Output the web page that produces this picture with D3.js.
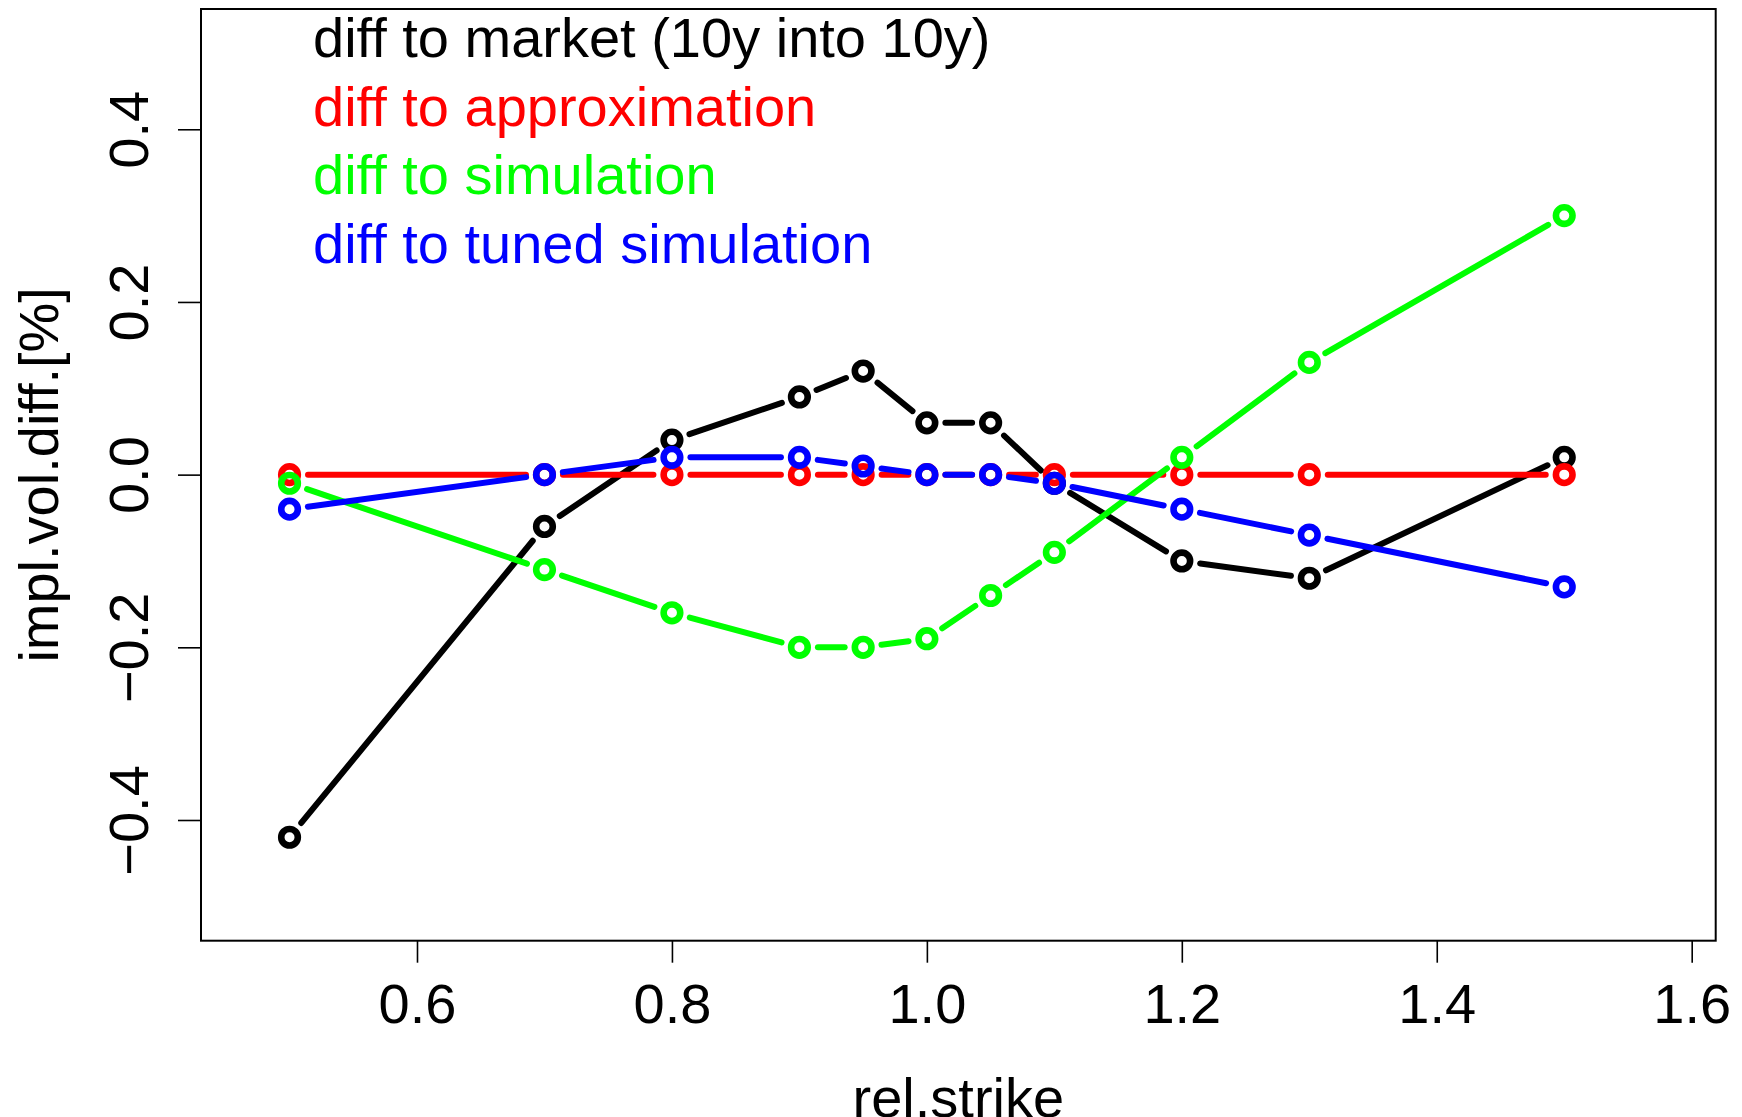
<!DOCTYPE html>
<html>
<head>
<meta charset="utf-8">
<script src="https://cdn.jsdelivr.net/npm/d3@7"></script>
<style>
  body { margin: 0; background: #fff; }
  svg text { font-family: "Liberation Sans", Arial, Helvetica, sans-serif; }
</style>
</head>
<body>
<svg id="chart" width="1742" height="1117"></svg>
<script>
// strikes on the x axis
var strikes = [0.5, 0.7, 0.8, 0.9, 0.95, 1.0, 1.05, 1.1, 1.2, 1.3, 1.5];

// implied vol differences, in %
var diffMarket    = [-0.42, -0.06, 0.04, 0.09, 0.12, 0.06, 0.06, -0.01, -0.10, -0.12, 0.02];
var diffApprox    = [0, 0, 0, 0, 0, 0, 0, 0, 0, 0, 0];
var diffSim       = [-0.01, -0.11, -0.16, -0.20, -0.20, -0.19, -0.14, -0.09, 0.02, 0.13, 0.30];
var diffTunedSim  = [-0.04, 0.0, 0.02, 0.02, 0.01, 0.0, 0.0, -0.01, -0.04, -0.07, -0.13];

var seriesNames = ["diff to market (10y into 10y)", "diff to approximation",
                   "diff to simulation", "diff to tuned simulation"];
var seriesColors = ["#000000", "#ff0000", "#00ff00", "#0000ff"];

var xTicks = [0.6, 0.8, 1.0, 1.2, 1.4, 1.6];
var yTicks = [-0.4, -0.2, 0.0, 0.2, 0.4];

var svg = d3.select("#chart");
var box = { left: 201, right: 1715.7, top: 9, bottom: 940.7 };

// R style limits (range + 4%)
var xScale = d3.scaleLinear().domain([0.43055, 1.61883]).range([box.left, box.right]);
var yScale = d3.scaleLinear().domain([-0.5398, 0.5393]).range([box.bottom, box.top]);

var fontSize = 56;

// series drawn like plot(type="b"): segments with a gap round every point
var gap = 18.5;
var lw = 6;
var allSeries = [diffMarket, diffApprox, diffSim, diffTunedSim];

allSeries.forEach(function(vals, k){
    var pts = strikes.map((s, i) => [xScale(s), yScale(vals[i])]);
    var g = svg.append("g");
    for (var i = 0; i < pts.length - 1; i++){
        var a = pts[i], b = pts[i+1];
        var dx = b[0] - a[0], dy = b[1] - a[1];
        var len = Math.sqrt(dx*dx + dy*dy);
        if (len <= 2 * gap) continue;
        var ux = dx / len, uy = dy / len;
        g.append("line")
            .attr("x1", a[0] + ux*gap).attr("y1", a[1] + uy*gap)
            .attr("x2", b[0] - ux*gap).attr("y2", b[1] - uy*gap)
            .attr("stroke", seriesColors[k])
            .attr("stroke-width", lw)
            .attr("stroke-linecap", "round");
    }
    g.selectAll("circle")
        .data(pts)
        .enter()
        .append("circle")
            .attr("cx", d => d[0])
            .attr("cy", d => d[1])
            .attr("r", 8.3)
            .attr("fill", "none")
            .attr("stroke", seriesColors[k])
            .attr("stroke-width", 6.6);
});

// frame
svg.append("rect")
    .attr("x", box.left).attr("y", box.top)
    .attr("width", box.right - box.left).attr("height", box.bottom - box.top)
    .attr("fill", "none").attr("stroke", "#000").attr("stroke-width", 2);

// x axis
var xAxis = d3.axisBottom(xScale).tickValues(xTicks).tickSize(22).tickFormat(d3.format(".1f"));
var gx = svg.append("g")
    .attr("transform", "translate(0," + box.bottom + ")")
    .call(xAxis);
gx.select(".domain").remove();
gx.selectAll("line").attr("stroke", "#000").attr("stroke-width", 1.6);
gx.selectAll("text")
    .attr("y", 82).attr("dy", null)
    .attr("fill", "#000")
    .style("font-size", fontSize + "px")
    .style("font-family", "'Liberation Sans', Arial, sans-serif");

// y axis, labels rotated like R's las=0
var yAxis = d3.axisLeft(yScale).tickValues(yTicks).tickSize(23).tickFormat(d3.format(".1f"));
var gy = svg.append("g")
    .attr("transform", "translate(" + box.left + ",0)")
    .call(yAxis);
gy.select(".domain").remove();
gy.selectAll("line").attr("stroke", "#000").attr("stroke-width", 1.6);
gy.selectAll("text")
    .text(d => d3.format(".1f")(d).replace("-", "\u2212"))
    .attr("x", null).attr("dy", null)
    .attr("transform", "translate(-53,0) rotate(-90)")
    .attr("y", 0)
    .attr("fill", "#000")
    .style("text-anchor", "middle")
    .style("font-size", fontSize + "px")
    .style("font-family", "'Liberation Sans', Arial, sans-serif");

// axis titles (x title runs off the bottom edge, as in the original)
svg.append("text")
    .attr("x", (box.left + box.right) / 2)
    .attr("y", 1117)
    .style("text-anchor", "middle")
    .style("font-size", fontSize + "px")
    .text("rel.strike");

svg.append("text")
    .attr("transform", "translate(58," + (box.top + box.bottom) / 2 + ") rotate(-90)")
    .style("text-anchor", "middle")
    .style("font-size", fontSize + "px")
    .text("impl.vol.diff.[%]");

// legend: text only, coloured
svg.append("g").selectAll("text")
    .data(seriesNames)
    .enter()
    .append("text")
        .attr("x", 313)
        .attr("y", (d, i) => 57 + i * 68.7)
        .attr("fill", (d, i) => seriesColors[i])
        .style("font-size", fontSize + "px")
        .text(d => d);
</script>
</body>
</html>
